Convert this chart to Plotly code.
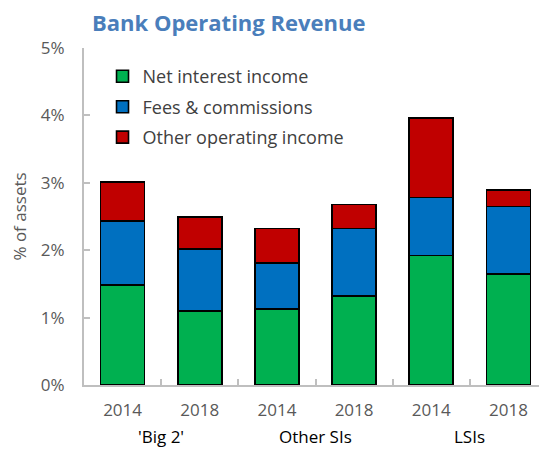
import plotly.graph_objects as go

# Bank operating revenue, % of assets
years = ["2014", "2018", "2014", "2018", "2014", "2018"]
groups = ["'Big 2'", "Other SIs", "LSIs"]
net_interest = [1.48, 1.10, 1.13, 1.32, 1.92, 1.65]
fees = [0.95, 0.92, 0.68, 1.00, 0.86, 1.00]
other_income = [0.58, 0.47, 0.51, 0.36, 1.18, 0.24]

series = [
    ("Net interest income", net_interest, "#00B050"),
    ("Fees & commissions", fees, "#0070C0"),
    ("Other operating income", other_income, "#C00000"),
]

x = list(range(len(years)))
FONT = "Open Sans, DejaVu Sans, sans-serif"
AXIS_GREY = "#BFBFBF"
# page body has an 8px margin, so the figure is sized to fit the window
W, H = 539, 443

fig = go.Figure()
for name, vals, color in series:
    fig.add_trace(go.Bar(
        x=x, y=vals, name=name, legendgroup=name,
        marker=dict(color=color, line=dict(color="black", width=1.6)),
        width=0.57,
    ))

# group labels under each pair of years
for i, g in enumerate(groups):
    fig.add_annotation(
        x=2 * i + 0.5, y=-0.154, xref="x", yref="paper",
        text=g, showarrow=False, yanchor="middle",
        font=dict(family=FONT, size=17, color="#000000"),
    )

fig.update_layout(
    width=W, height=H,
    barmode="stack",
    plot_bgcolor="white", paper_bgcolor="white",
    margin=dict(l=76, r=0, t=40, b=66, autoexpand=False),
    font=dict(family=FONT, size=17, color="#595959"),
    title=dict(
        text="<b>Bank Operating Revenue</b>",
        x=84 / W, xanchor="left", y=1 - 15 / H, yanchor="middle",
        font=dict(family=FONT, size=22, color="#4A7EBB"),
    ),
    showlegend=True,
    legend=dict(
        x=0.04, y=0.97, xanchor="left", yanchor="top",
        traceorder="grouped", bgcolor="rgba(0,0,0,0)",
        font=dict(family=FONT, size=18, color="#404040"),
        itemwidth=30, tracegroupgap=4,
    ),
    xaxis=dict(
        range=[-0.5, 5.5], automargin=False,
        tickvals=x, ticktext=years, ticklabelstandoff=9,
        ticks="", showgrid=False, zeroline=False,
        showline=True, linecolor=AXIS_GREY, linewidth=2,
        minor=dict(tickvals=[i + 0.5 for i in x[:-1]], ticks="inside",
                   ticklen=6, tickcolor=AXIS_GREY, tickwidth=2),
        tickfont=dict(family=FONT, size=17, color="#595959"),
    ),
    yaxis=dict(
        range=[0, 5], dtick=1, ticksuffix="%", automargin=False,
        ticklabelstandoff=14,
        showgrid=False, zeroline=False,
        showline=True, linecolor=AXIS_GREY, linewidth=2,
        ticks="inside", ticklen=6, tickcolor=AXIS_GREY, tickwidth=2,
        title=dict(text="% of assets", standoff=14,
                   font=dict(family=FONT, size=17, color="#595959")),
        tickfont=dict(family=FONT, size=17, color="#595959"),
    ),
)

fig.write_html("out.html")
